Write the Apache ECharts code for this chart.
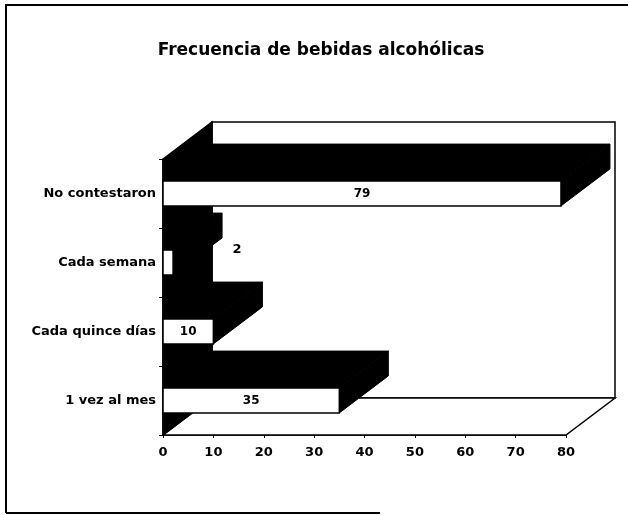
<!DOCTYPE html>
<html>
<head>
<meta charset="utf-8">
<script src="https://cdn.jsdelivr.net/npm/echarts@6/dist/echarts.min.js"></script>
<style>
  html, body { margin: 0; padding: 0; background: #fff; }
  #chart { width: 629px; height: 515px; }
</style>
</head>
<body>
<div id="chart"></div>
<script>
// datos
const titulo = 'Frecuencia de bebidas alcohólicas'
const categorias = ['1 vez al mes', 'Cada quince días', 'Cada semana', 'No contestaron']
const valores = [35, 10, 2, 79]
const ejeMin = 0
const ejeMax = 80
const ejeIntervalo = 10

// profundidad del efecto 3D (pixeles)
const DX = 49
const DY = -37
const FONT = 'DejaVu Sans, Arial, sans-serif'

const chart = echarts.init(document.getElementById('chart'))

function paredes (params, api) {
  const cs = params.coordSys
  const x0 = cs.x, y0 = cs.y, x1 = cs.x + cs.width, y1 = cs.y + cs.height
  const line = { stroke: '#000', lineWidth: 1.5 }
  return {
    type: 'group',
    children: [
      { type: 'rect', shape: { x: x0 + DX, y: y0 + DY, width: cs.width, height: cs.height }, style: Object.assign({ fill: '#fff' }, line) },
      { type: 'polygon', shape: { points: [[x0, y1], [x1, y1], [x1 + DX, y1 + DY], [x0 + DX, y1 + DY]] }, style: Object.assign({ fill: '#fff' }, line) },
      { type: 'polygon', shape: { points: [[x0, y0], [x0 + DX, y0 + DY], [x0 + DX, y1 + DY], [x0, y1]] }, style: Object.assign({ fill: '#000' }, line) }
    ]
  }
}

function barra3d (params, api) {
  const v = api.value(0)
  const c = api.value(1)
  const a = api.coord([0, c])
  const b = api.coord([v, c])
  const h = api.size([0, 1])[1] * 0.36
  const yt = a[1] - h / 2
  const yb = a[1] + h / 2
  const xa = a[0], xb = b[0]
  const negro = { fill: '#000', stroke: '#000', lineWidth: 1 }
  const ancho = xb - xa
  const etiqueta = ancho > 20
    ? { type: 'text', x: (xa + xb) / 2, y: a[1], style: { text: String(v), fill: '#000', font: 'bold 12px ' + FONT, align: 'center', verticalAlign: 'middle' }, z2: 10 }
    : { type: 'text', x: xb + DX + 15, y: yt, style: { text: String(v), fill: '#000', font: 'bold 13px ' + FONT, align: 'center', verticalAlign: 'middle' }, z2: 10 }
  return {
    type: 'group',
    children: [
      { type: 'polygon', shape: { points: [[xa, yt], [xb, yt], [xb + DX, yt + DY], [xa + DX, yt + DY]] }, style: negro },
      { type: 'polygon', shape: { points: [[xb, yt], [xb + DX, yt + DY], [xb + DX, yb + DY], [xb, yb]] }, style: negro },
      { type: 'rect', shape: { x: xa, y: yt, width: ancho, height: h }, style: { fill: '#fff', stroke: '#000', lineWidth: 1.5 } },
      etiqueta
    ]
  }
}

chart.setOption({
  backgroundColor: '#fff',
  animation: false,
  title: {
    text: titulo,
    left: 316,
    top: 37,
    textAlign: 'center',
    textStyle: { fontFamily: FONT, fontSize: 17, fontWeight: 'bold', color: '#000' }
  },
  graphic: [
    { type: 'polyline', shape: { points: [[6, 513], [6, 5], [628, 5]] }, style: { stroke: '#000', lineWidth: 2, fill: null } },
    { type: 'line', shape: { x1: 6, y1: 513, x2: 380, y2: 513 }, style: { stroke: '#000', lineWidth: 2 } }
  ],
  grid: { left: 163, right: 63, top: 159, bottom: 80 },
  xAxis: {
    type: 'value',
    min: ejeMin,
    max: ejeMax,
    interval: ejeIntervalo,
    splitLine: { show: false },
    axisLine: { show: true, lineStyle: { color: '#000', width: 1.5 } },
    axisTick: { show: true, length: 3, lineStyle: { color: '#000' } },
    axisLabel: { color: '#000', fontFamily: FONT, fontSize: 13, fontWeight: 'bold', margin: 11 }
  },
  yAxis: {
    type: 'category',
    data: categorias,
    axisLine: { show: true, lineStyle: { color: '#000', width: 1.5 } },
    axisTick: { show: true, length: 4, lineStyle: { color: '#000' } },
    axisLabel: { color: '#000', fontFamily: FONT, fontSize: 13, fontWeight: 'bold', margin: 7 }
  },
  series: [
    {
      type: 'custom',
      name: 'paredes',
      renderItem: paredes,
      data: [[0, 0]],
      clip: false,
      silent: true,
      z: 1
    },
    {
      type: 'custom',
      name: 'Frecuencia',
      renderItem: barra3d,
      encode: { x: 0, y: 1 },
      data: valores.map((v, i) => [v, i]),
      clip: false,
      z: 2
    }
  ]
})
</script>
</body>
</html>
